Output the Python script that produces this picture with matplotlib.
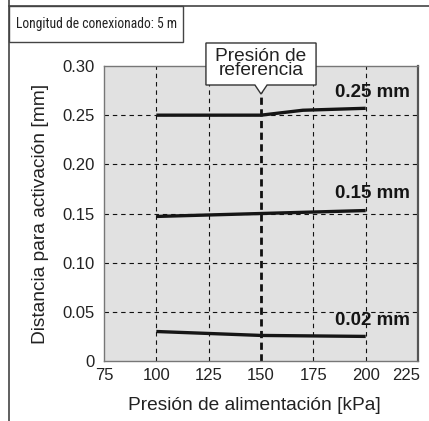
import matplotlib
matplotlib.use("Agg")
import matplotlib.pyplot as plt
from matplotlib.patches import Polygon, Rectangle
from matplotlib.lines import Line2D
import matplotlib.transforms as mtransforms
from matplotlib import font_manager

# ---- data ----
pressure_025 = [100, 150, 170, 200]
dist_025 = [0.250, 0.250, 0.255, 0.257]
pressure_015 = [100, 150, 200]
dist_015 = [0.147, 0.150, 0.153]
pressure_002 = [100, 150, 200]
dist_002 = [0.030, 0.026, 0.025]
series_labels = ["0.25 mm", "0.15 mm", "0.02 mm"]
label_y = [0.2726, 0.170, 0.041]
x_ticks = [75, 100, 125, 150, 175, 200, 225]
y_ticks = [0, 0.05, 0.10, 0.15, 0.20, 0.25, 0.30]
y_tick_labels = ["0", "0.05", "0.10", "0.15", "0.20", "0.25", "0.30"]
x_grid = [100, 125, 175, 200]
y_grid = [0.05, 0.10, 0.15, 0.20, 0.25]
ref_pressure = 150

plt.rcParams['font.family'] = ['Liberation Sans', 'DejaVu Sans']

names = sorted({f.name for f in font_manager.fontManager.ttflist})
narrow = None
for cand in ['Liberation Sans Narrow', 'Roboto Condensed', 'DejaVu Sans Condensed',
             'Open Sans Condensed', 'Noto Sans Condensed']:
    if cand in names:
        narrow = cand
        break
if narrow is None:
    for n in names:
        if 'Narrow' in n or 'Condensed' in n:
            narrow = n
            break

W, H = 429, 421
fig = plt.figure(figsize=(W / 100, H / 100), dpi=100)

ov = fig.add_axes([0, 0, 1, 1])
ov.set_xlim(0, W)
ov.set_ylim(H, 0)
ov.axis('off')
frame_c = '#444444'
ov.add_line(Line2D([9, W], [5.5, 5.5], color=frame_c, lw=1.2))
ov.add_line(Line2D([9, 9], [0, H], color=frame_c, lw=1.2))
ov.add_patch(Rectangle((9, 5.5), 174, 36.5, fill=False, ec=frame_c, lw=1.0))
if narrow is not None:
    ov.text(96.5, 24, "Longitud de conexionado: 5 m", ha='center', va='center',
            fontsize=9.8, family=[narrow, 'DejaVu Sans'], color='#222222')
else:
    ov.text(96.5, 24, "Longitud de conexionado: 5 m", ha='center', va='center',
            fontsize=8.3, color='#222222')

L, R, T, B = 104, 418, 66, 361
ax = fig.add_axes([L / W, (H - B) / H, (R - L) / W, (B - T) / H])
ax.set_facecolor('#e1e1e1')
ax.set_xlim(75, 225)
ax.set_ylim(0, 0.30)
ax.set_xticks(x_ticks)
ax.set_yticks(y_ticks)
ax.set_yticklabels(y_tick_labels)
ax.tick_params(length=0, labelsize=12, colors='#222222')
ax.tick_params(axis='y', pad=7)
ax.tick_params(axis='x', pad=5)
# keep last x tick label inside the figure
last = ax.get_xticklabels()[-1]
last.set_horizontalalignment('right')
last.set_transform(last.get_transform() + mtransforms.ScaledTranslation(2 / 100, 0, fig.dpi_scale_trans))

for s in ['left', 'bottom', 'top']:
    ax.spines[s].set_color('#777777')
    ax.spines[s].set_linewidth(1.0)
ax.spines['right'].set_color('#555555')
ax.spines['right'].set_linewidth(1.6)

for gx in x_grid:
    ax.axvline(gx, color='#111111', lw=0.8, ls=(0, (4, 3.5)), zorder=1)
for gy in y_grid:
    ax.axhline(gy, color='#111111', lw=0.8, ls=(0, (4, 3.5)), zorder=1)
ax.axvline(ref_pressure, color='#111111', lw=2.0, ls=(0, (2.6, 1.6)), zorder=2)

line_kw = dict(color='#151515', lw=2.4, solid_capstyle='butt', zorder=3)
ax.plot(pressure_025, dist_025, **line_kw)
ax.plot(pressure_015, dist_015, **line_kw)
ax.plot(pressure_002, dist_002, **line_kw)

for lab, ly in zip(series_labels, label_y):
    ax.text(221.2, ly, lab, ha='right', va='center', fontsize=13.5,
            fontweight='bold', color='#151515', zorder=4)

ax.set_xlabel("Presión de alimentación [kPa]", fontsize=13.8, color='#222222', labelpad=10)
ax.xaxis.label.set_x((254 - L) / (R - L))
ax.set_ylabel("Distancia para activación [mm]", fontsize=13.8, color='#222222', labelpad=9)

trans = mtransforms.blended_transform_factory(ax.transData, ax.transAxes)
x0, x1 = 123.7, 176.3
ytop, ybot, yap = 1.078, 0.9356, 0.905
nh = 2.9
poly = Polygon([(x0, ytop), (x1, ytop), (x1, ybot), (ref_pressure + nh, ybot),
                (ref_pressure, yap), (ref_pressure - nh, ybot), (x0, ybot)],
               closed=True, transform=trans, fc='white', ec='#333333', lw=1.0,
               clip_on=False, zorder=5)
ax.add_patch(poly)
ax.text(ref_pressure, 1.009, "Presión de\nreferencia", transform=trans,
        ha='center', va='center', fontsize=13.8, linespacing=0.82,
        color='#222222', zorder=6, clip_on=False)

fig.savefig("out.png", dpi=100)
